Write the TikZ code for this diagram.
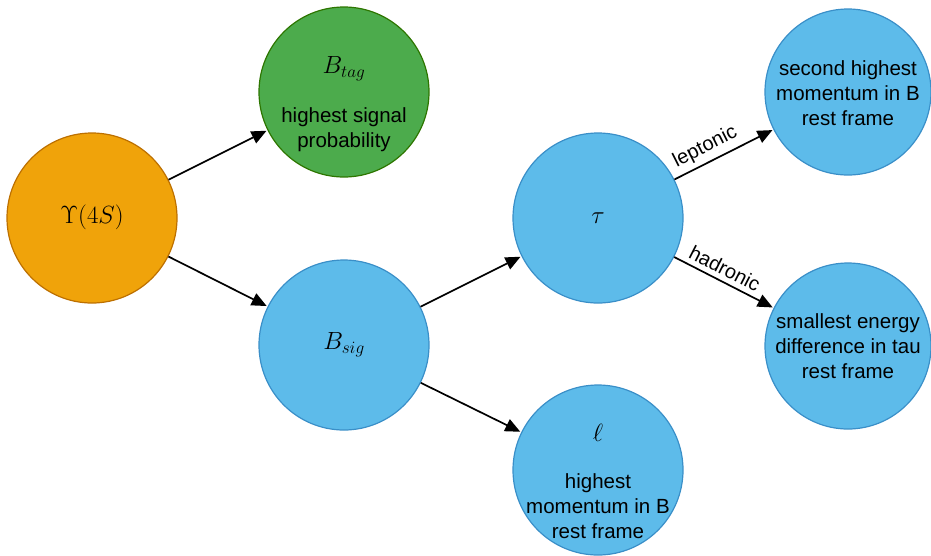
\documentclass[tikz,border=0pt]{standalone}
\usepackage{fontspec}
\setmainfont{Liberation Sans}
\usetikzlibrary{arrows.meta}
\definecolor{orfill}{HTML}{F0A30A}
\definecolor{ordraw}{HTML}{BD7000}
\definecolor{grfill}{HTML}{4CAB4C}
\definecolor{grdraw}{HTML}{2D7600}
\definecolor{blfill}{HTML}{5DBBEA}
\definecolor{bldraw}{HTML}{3A8FC8}
\tikzset{
  state/.style={circle, minimum size=170pt, inner sep=0pt, line width=1.2pt},
  upsilon/.style={state, fill=orfill, draw=ordraw},
  tagged/.style={state, fill=grfill, draw=grdraw},
  particle/.style={state, fill=blfill, draw=bldraw},
  caption/.style={align=center, inner sep=0pt, font=\fontsize{20.5}{24.7}\selectfont},
  symbol/.style={inner sep=0pt, font=\fontsize{24}{29}\selectfont},
  decay/.style={-{Triangle[length=15pt,width=13pt]}, line width=1.7pt, shorten >=1pt},
  channel/.style={font=\fontsize{20}{24}\selectfont, sloped, above, inner sep=5pt},
}
\begin{document}
\begin{tikzpicture}[x=1pt, y=-1pt]
\useasboundingbox (0,0) rectangle (931,555);
% decay stages
\node[upsilon] (ups) at (92,218) {};
\node[tagged] (btag) at (344,92) {};
\node[particle] (bsig) at (344,345) {};
\node[particle] (tau) at (598,218) {};
\node[particle] (lep) at (598,470) {};
\node[particle, minimum size=166pt] (second) at (848,92) {};
\node[particle, minimum size=166pt] (small) at (848,346) {};
% symbols
\node[symbol] (upsname) at (92,217) {$\Upsilon(4S)$};
\node[symbol] (btagname) at (344,69) {$B_{tag}$};
\node[symbol] (bsigname) at (344,345) {$B_{sig}$};
\node[symbol] (tauname) at (598,218) {$\tau$};
\node[symbol] (lepname) at (598,433) {$\ell$};
% selection criteria
\node[caption] (btagtext) at (344,130) {highest signal\\probability};
\node[caption] (leptext) at (598,506) {highest\\momentum in B\\rest frame};
\node[caption] (secondtext) at (848,93) {second highest\\momentum in B\\rest frame};
\node[caption] (smalltext) at (848,346) {smallest energy\\difference in tau\\rest frame};
% decays
\draw[decay] (ups) -- (btag);
\draw[decay] (ups) -- (bsig);
\draw[decay] (bsig) -- (tau);
\draw[decay] (bsig) -- (lep);
\draw[decay] (tau) -- node[channel, pos=0.38] {leptonic} (second);
\draw[decay] (tau) -- node[channel, pos=0.45] {hadronic} (small);
\end{tikzpicture}
\end{document}
